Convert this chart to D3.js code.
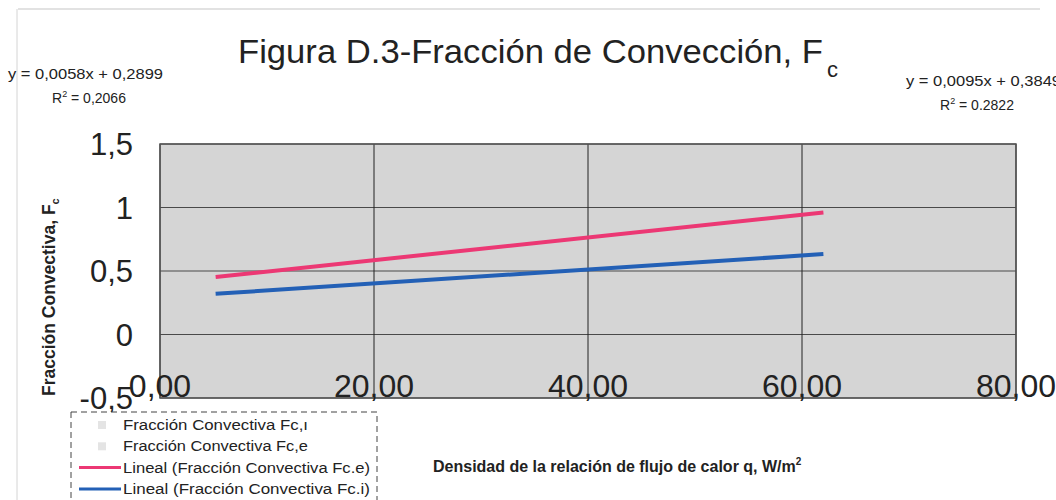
<!DOCTYPE html>
<html>
<head>
<meta charset="utf-8">
<script src="https://cdn.jsdelivr.net/npm/d3@7"></script>
<style>
  body { margin: 0; background: #fff; }
  text { font-family: "Liberation Sans", Arial, sans-serif; }
</style>
</head>
<body>
<div id="chart"></div>
<script>
var width = 1056,
    height = 500;

// tick values / labels
var xTicks = [0, 20, 40, 60, 80];
var xTickLabels = ['0,00', '20,00', '40,00', '60,00', '80,00'];
var yTicks = [-0.5, 0, 0.5, 1, 1.5];
var yTickLabels = ['-0,5', '0', '0,5', '1', '1,5'];

// trend lines (start/end points)
var lineFcE = [[5.2, 0.453], [62.0, 0.961]];
var lineFcI = [[5.2, 0.320], [62.0, 0.633]];

var legendLabels = [
    'Fracción Convectiva Fc,ı',
    'Fracción Convectiva Fc,e',
    'Lineal (Fracción Convectiva Fc.e)',
    'Lineal (Fracción Convectiva Fc.i)'
];

var pink = '#ec3874',
    blue = '#2360b6';

var margin = {left: 160, right: 40, top: 144, bottom: 102};
var plotW = width - margin.left - margin.right,
    plotH = height - margin.top - margin.bottom;

var svg = d3.select('#chart').append('svg')
    .attr('width', width)
    .attr('height', height);

// faint scan frame
svg.append('line')
    .attr('x1', 18).attr('x2', 1040).attr('y1', 9).attr('y2', 9)
    .style('stroke', '#d8d8d8').style('stroke-width', 1.5);
svg.append('line')
    .attr('x1', 17).attr('x2', 17).attr('y1', 9).attr('y2', 500)
    .style('stroke', '#d4d4d4').style('stroke-width', 1);

var x = d3.scaleLinear().domain([0, 80]).range([0, plotW]);
var y = d3.scaleLinear().domain([-0.5, 1.5]).range([plotH, 0]);

var g = svg.append('g')
    .attr('transform', 'translate(' + margin.left + ',' + margin.top + ')');

g.append('rect')
    .attr('width', plotW)
    .attr('height', plotH)
    .style('fill', '#d5d5d5');

// grid
g.selectAll('.hgrid')
    .data(yTicks)
    .enter().append('line')
    .attr('class', 'hgrid')
    .attr('x1', 0).attr('x2', plotW)
    .attr('y1', function(d) { return y(d); })
    .attr('y2', function(d) { return y(d); })
    .style('stroke', '#4a4a4a')
    .style('stroke-width', 1.2);

g.selectAll('.vgrid')
    .data(xTicks)
    .enter().append('line')
    .attr('class', 'vgrid')
    .attr('y1', 0).attr('y2', plotH)
    .attr('x1', function(d) { return x(d); })
    .attr('x2', function(d) { return x(d); })
    .style('stroke', '#222')
    .style('stroke-width', 1);

g.append('rect')
    .attr('width', plotW)
    .attr('height', plotH)
    .style('fill', 'none')
    .style('stroke', '#555')
    .style('stroke-width', 1.5);

// y axis labels
g.selectAll('.ylab')
    .data(yTicks)
    .enter().append('text')
    .attr('class', 'ylab')
    .attr('x', -27)
    .attr('y', function(d) { return y(d); })
    .attr('dy', '0.36em')
    .attr('text-anchor', 'end')
    .style('font-size', '31px')
    .style('fill', '#222')
    .text(function(d, i) { return yTickLabels[i]; });

// x axis labels (sit inside the bottom of the plot)
g.selectAll('.xlab')
    .data(xTicks)
    .enter().append('text')
    .attr('class', 'xlab')
    .attr('x', function(d) { return x(d); })
    .attr('y', plotH - 1)
    .attr('text-anchor', 'middle')
    .style('font-size', '32px')
    .style('fill', '#222')
    .text(function(d, i) { return xTickLabels[i]; });

// trend lines
var line = d3.line()
    .x(function(d) { return x(d[0]); })
    .y(function(d) { return y(d[1]); });

g.append('path')
    .datum(lineFcE)
    .attr('d', line)
    .style('fill', 'none')
    .style('stroke', pink)
    .style('stroke-width', 4);

g.append('path')
    .datum(lineFcI)
    .attr('d', line)
    .style('fill', 'none')
    .style('stroke', blue)
    .style('stroke-width', 4);

// title
svg.append('text')
    .attr('x', 238)
    .attr('y', 63)
    .attr('textLength', 585)
    .attr('lengthAdjust', 'spacingAndGlyphs')
    .style('font-size', '33px')
    .style('fill', '#222')
    .text('Figura D.3-Fracción de Convección, F');
svg.append('text')
    .attr('x', 827)
    .attr('y', 77)
    .style('font-size', '22px')
    .style('fill', '#222')
    .text('c');

// regression equations
function equation(xPos, yPos, eq, r2, r2x) {
    svg.append('text')
        .attr('x', xPos).attr('y', yPos)
        .attr('textLength', 155)
        .attr('lengthAdjust', 'spacingAndGlyphs')
        .style('font-size', '14px')
        .style('fill', '#222')
        .text(eq);
    var t = svg.append('text')
        .attr('x', r2x).attr('y', yPos + 24)
        .style('font-size', '14px')
        .style('fill', '#222');
    t.append('tspan').text('R');
    t.append('tspan').attr('dy', -6).style('font-size', '9px').text('2');
    t.append('tspan').attr('dy', 6).text(' = ' + r2);
}
equation(8, 79, 'y = 0,0058x + 0,2899', '0,2066', 52);
equation(906, 86, 'y = 0,0095x + 0,3849', '0.2822', 940);

// y axis title
var yTitle = svg.append('text')
    .attr('transform', 'translate(55,396) rotate(-90)')
    .style('font-size', '17.5px')
    .style('font-weight', 'bold')
    .style('fill', '#222');
yTitle.append('tspan').text('Fracción Convectiva, F');
yTitle.append('tspan').attr('dy', 4).style('font-size', '11px').text('c');

// x axis title
var xTitle = svg.append('text')
    .attr('x', 433)
    .attr('y', 472)
    .style('font-size', '16px')
    .style('font-weight', 'bold')
    .style('fill', '#222');
xTitle.append('tspan').text('Densidad de la relación de flujo de calor q, W/m');
xTitle.append('tspan').attr('dy', -7).style('font-size', '10px').text('2');

// legend
var lg = svg.append('g').attr('transform', 'translate(71,412)');
lg.append('rect')
    .attr('width', 306)
    .attr('height', 92)
    .style('fill', '#fff')
    .style('stroke', '#444')
    .style('stroke-dasharray', '6,4')
    .style('stroke-width', 1);

var items = lg.selectAll('.item')
    .data(legendLabels)
    .enter().append('g')
    .attr('class', 'item')
    .attr('transform', function(d, i) { return 'translate(0,' + (13 + i * 21.3) + ')'; });

items.append('text')
    .attr('x', 52)
    .attr('dy', '0.36em')
    .attr('textLength', function(d, i) { return i < 2 ? 185 : 247; })
    .attr('lengthAdjust', 'spacingAndGlyphs')
    .style('font-size', '14px')
    .style('fill', '#222')
    .text(function(d) { return d; });

items.filter(function(d, i) { return i < 2; })
    .append('rect')
    .attr('x', 27).attr('y', -4)
    .attr('width', 8).attr('height', 8)
    .style('fill', '#e4e4e4');

items.filter(function(d, i) { return i >= 2; })
    .append('line')
    .attr('x1', 8).attr('x2', 50)
    .style('stroke', function(d, i) { return i == 0 ? pink : blue; })
    .style('stroke-width', 3);
</script>
</body>
</html>
